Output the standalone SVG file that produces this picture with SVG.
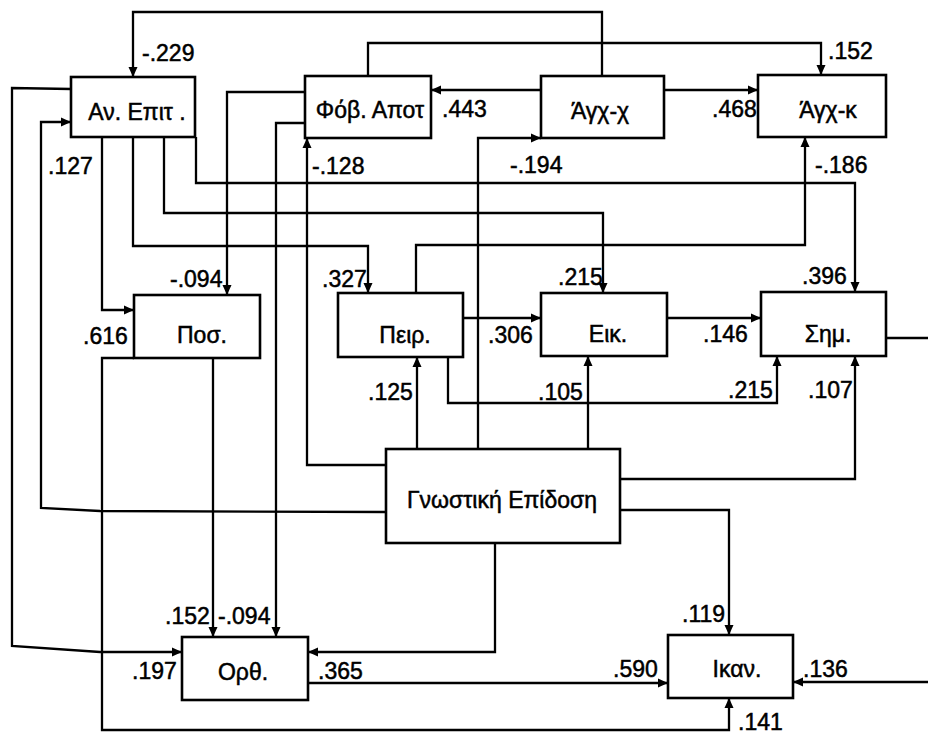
<svg xmlns="http://www.w3.org/2000/svg" width="928" height="735" viewBox="0 0 928 735">
<style>
.box{fill:#fff;stroke:#000;stroke-width:2.6}
.c{fill:none;stroke:#000;stroke-width:2.3}
.a{marker-end:url(#arr)}
.t{font-family:"Liberation Sans",Arial,sans-serif;font-size:23px;fill:#000;stroke:#000;stroke-width:0.5}
.n{text-anchor:middle}
</style>
<defs>
<marker id="arr" markerUnits="userSpaceOnUse" markerWidth="10" markerHeight="10" refX="10" refY="5" orient="auto">
<path d="M0,0.5 L10,5 L0,9.5 z" fill="#000"/>
</marker>
</defs>
<rect width="928" height="735" fill="#fff"/>
<g id="connectors">
<path class="c a" d="M602,76 V12 H133 V77"/>
<path class="c a" d="M368,76 V43 H821 V75"/>
<path class="c a" d="M541,90 H431"/>
<path class="c a" d="M664,90 H758"/>
<path class="c a" d="M71,89 L12,88 V646 L100,652 H182"/>
<path class="c a" d="M386,512 L100,511 L41,508 V122 H71"/>
<path class="c a" d="M386,465 H307 V138"/>
<path class="c a" d="M196,137 V183 H855 V292"/>
<path class="c a" d="M164,137 V213 H603 V293"/>
<path class="c a" d="M133,137 V246 H368 V293"/>
<path class="c a" d="M102,137 V310 H134"/>
<path class="c a" d="M305,92 H227 V295"/>
<path class="c a" d="M305,123 H276 V637"/>
<path class="c a" d="M213,358 V637"/>
<path class="c a" d="M134,358 H102 V730 H729 V698"/>
<path class="c a" d="M308,683 H668"/>
<path class="c a" d="M495,543 V652 H308"/>
<path class="c a" d="M620,510 H729 V635"/>
<path class="c a" d="M463,318 H541"/>
<path class="c a" d="M667,318 H761"/>
<path class="c a" d="M448,357 V403 H777 V356"/>
<path class="c a" d="M416,293 V245 H805 V137"/>
<path class="c a" d="M417,449 V357"/>
<path class="c a" d="M588,449 V356"/>
<path class="c a" d="M478,449 V138 H541"/>
<path class="c a" d="M620,479 H855 V356"/>
<path class="c a" d="M886,338 H934 V682 H793"/>
</g>
<g id="labels" class="t">
<text x="142" y="61">-.229</text>
<text x="828" y="59">.152</text>
<text x="442" y="117">.443</text>
<text x="712" y="117">.468</text>
<text x="312" y="174">-.128</text>
<text x="510" y="173">-.194</text>
<text x="815" y="173">-.186</text>
<text x="48" y="174">.127</text>
<text x="83" y="344">.616</text>
<text x="170" y="287">-.094</text>
<text x="322" y="287">.327</text>
<text x="558" y="285">.215</text>
<text x="802" y="284">.396</text>
<text x="488" y="343">.306</text>
<text x="703" y="342">.146</text>
<text x="368" y="400">.125</text>
<text x="538" y="400">.105</text>
<text x="728" y="398">.215</text>
<text x="808" y="398">.107</text>
<text x="165" y="624">.152</text>
<text x="218" y="624">-.094</text>
<text x="682" y="622">.119</text>
<text x="132" y="679">.197</text>
<text x="318" y="679">.365</text>
<text x="613" y="677">.590</text>
<text x="803" y="677">.136</text>
<text x="738" y="730">.141</text>
</g>
<g id="n_anepit"><rect class="box" x="71" y="77" width="124" height="60"/><text class="t n" x="137" y="120">Αν. Επιτ .</text></g>
<g id="n_fov"><rect class="box" x="305" y="76" width="126" height="62"/><text class="t n" x="370" y="118">Φόβ. Αποτ</text></g>
<g id="n_agxx"><rect class="box" x="541" y="76" width="123" height="62"/><text class="t n" x="600" y="119">Άγχ-χ</text></g>
<g id="n_agxk"><rect class="box" x="758" y="75" width="128" height="62"/><text class="t n" x="828" y="118">Άγχ-κ</text></g>
<g id="n_pos"><rect class="box" x="134" y="295" width="126" height="63"/><text class="t n" x="202" y="343">Ποσ.</text></g>
<g id="n_peir"><rect class="box" x="338" y="293" width="125" height="64"/><text class="t n" x="405" y="343">Πειρ.</text></g>
<g id="n_eik"><rect class="box" x="541" y="293" width="126" height="63"/><text class="t n" x="608" y="342">Εικ.</text></g>
<g id="n_sim"><rect class="box" x="761" y="292" width="125" height="64"/><text class="t n" x="828" y="342">Σημ.</text></g>
<g id="n_gnos"><rect class="box" x="386" y="449" width="234" height="94"/><text class="t n" x="502" y="508">Γνωστική Επίδοση</text></g>
<g id="n_orth"><rect class="box" x="182" y="637" width="126" height="63"/><text class="t n" x="243" y="680">Ορθ.</text></g>
<g id="n_ikan"><rect class="box" x="668" y="635" width="125" height="63"/><text class="t n" x="737" y="677">Ικαν.</text></g>
</svg>
